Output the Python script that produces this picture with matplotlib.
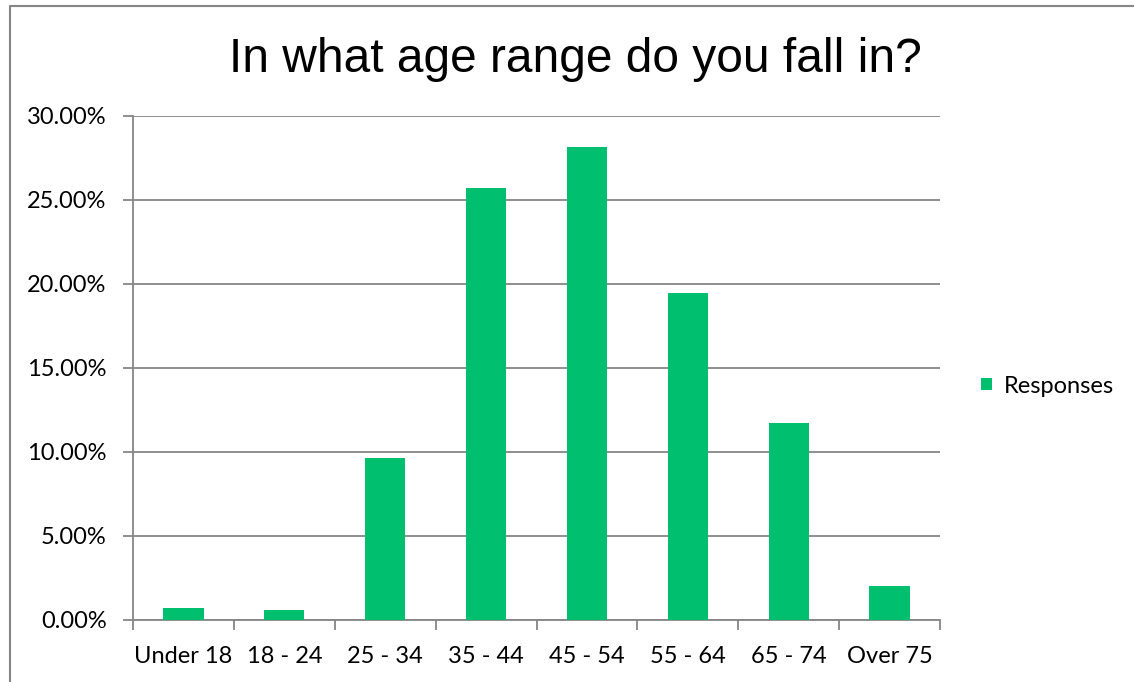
import numpy as np
import matplotlib
matplotlib.use("Agg")
import matplotlib.pyplot as plt
from matplotlib.patches import Patch
from matplotlib.lines import Line2D
from matplotlib.ticker import FuncFormatter, MultipleLocator, FixedLocator

# Survey data
age_ranges = ["Under 18", "18 - 24", "25 - 34", "35 - 44", "45 - 54", "55 - 64", "65 - 74", "Over 75"]
responses = [0.0073, 0.0060, 0.0962, 0.2572, 0.2817, 0.1948, 0.1170, 0.0200]

title = "In what age range do you fall in?"
series_name = "Responses"

BAR_COLOR = "#00BF6F"
GRID_COLOR = "#868686"
LABEL_FONT = "Lato"
LABEL_SIZE = 17

fig = plt.figure(figsize=(11.34, 6.82), dpi=100)
ax = fig.add_axes([133 / 1134, 62 / 682, 807 / 1134, 504 / 682])

x = np.arange(len(age_ranges))
ax.bar(x, responses, width=0.4, color=BAR_COLOR, zorder=3)

ax.set_xlim(-0.5, len(age_ranges) - 0.5)
ax.set_ylim(0, 0.30)
ax.yaxis.set_major_locator(MultipleLocator(0.05))
ax.yaxis.set_major_formatter(FuncFormatter(lambda v, p: f"{v * 100:.2f}%"))
ax.grid(axis="y", color=GRID_COLOR, linewidth=1.3, zorder=0)

# category labels centred, tick marks between categories
ax.set_xticks(x)
ax.set_xticklabels(age_ranges)
ax.xaxis.set_minor_locator(FixedLocator(np.arange(-0.5, len(age_ranges), 1.0)))
ax.tick_params(axis="x", which="major", length=0, pad=19, labelsize=LABEL_SIZE)
ax.tick_params(axis="x", which="minor", length=7, width=1.3, color=GRID_COLOR, direction="out")
ax.tick_params(axis="y", length=7, width=1.3, color=GRID_COLOR, direction="out", pad=12, labelsize=LABEL_SIZE)
for lab in ax.get_xticklabels() + ax.get_yticklabels():
    lab.set_fontfamily(LABEL_FONT)

for side in ["top", "right"]:
    ax.spines[side].set_visible(False)
for side in ["left", "bottom"]:
    ax.spines[side].set_color(GRID_COLOR)
    ax.spines[side].set_linewidth(1.3)

fig.text(575 / 1134, 1 - 72 / 682, title, ha="center", va="baseline",
         fontsize=34.5, family="Liberation Sans")

handle = Patch(facecolor=BAR_COLOR, edgecolor="none")
fig.legend([handle], [series_name], loc="center left",
           bbox_to_anchor=(981 / 1134, 1 - 386 / 682), frameon=False,
           borderpad=0, borderaxespad=0,
           handlelength=0.45, handleheight=0.45, handletextpad=0.5,
           prop={"family": LABEL_FONT, "size": LABEL_SIZE})

# outer chart border (partly cut off in the original)
fig.add_artist(Line2D([10 / 1134, 10 / 1134, 1.0], [0.0, 1 - 6 / 682, 1 - 6 / 682],
                      transform=fig.transFigure, color=GRID_COLOR, linewidth=1.5))

fig.savefig("out.png", dpi=100)
